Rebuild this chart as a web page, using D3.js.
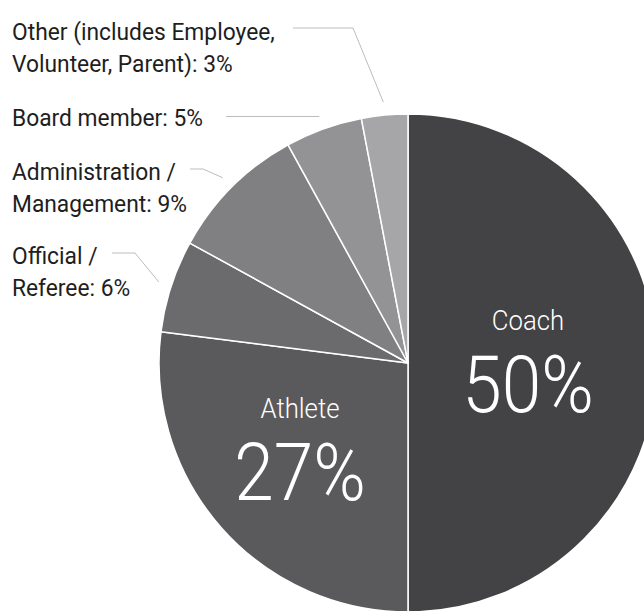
<!DOCTYPE html>
<html>
<head>
<meta charset="utf-8">
<script src="https://cdn.jsdelivr.net/npm/d3@7"></script>
<style>
    body { margin: 0; background: #fff; }
    svg { display: block; }
    text { font-family: Roboto, "Open Sans", sans-serif; }
</style>
</head>
<body>
<div id="chart"></div>
<script>
// values, clockwise from 12 o'clock
const categories = ['Coach', 'Athlete', 'Official / Referee', 'Administration / Management', 'Board member', 'Other'];
const shares = [50, 27, 6, 9, 5, 3];
const labelLines = [
    ['Coach'],
    ['Athlete'],
    ['Official /', 'Referee: 6%'],
    ['Administration /', 'Management: 9%'],
    ['Board member: 5%'],
    ['Other (includes Employee,', 'Volunteer, Parent): 3%']
];
const colors = ['#434244', '#5a5a5c', '#6b6b6e', '#808083', '#939396', '#a6a6a9'];

const width = 644, height = 611;
const cx = 408, cy = 363, radius = 249;

// where the outside labels sit (first baseline) and the elbow of their leader line
const outside = {
    'Official / Referee': {x: 12, y: 264, lineStart: 112, elbow: [135, 253]},
    'Administration / Management': {x: 12, y: 180, lineStart: 190, elbow: [203, 169]},
    'Board member': {x: 12, y: 126, lineStart: 226, elbow: null},
    'Other': {x: 12, y: 40, lineStart: 293, elbow: [353, 28]}
};

const data = categories.map((c, i) => ({name: c, value: shares[i], lines: labelLines[i]}));

const svg = d3.select('#chart').append('svg')
    .attr('width', width)
    .attr('height', height);

const g = svg.append('g')
    .attr('transform', 'translate(' + cx + ',' + cy + ')');

const pie = d3.pie()
    .sort(null)
    .value(d => d.value);

const arc = d3.arc()
    .innerRadius(0)
    .outerRadius(radius);

const leaderArc = d3.arc()
    .innerRadius(262)
    .outerRadius(262);

const arcs = pie(data);

g.selectAll('path.slice')
    .data(arcs)
    .enter()
    .append('path')
    .attr('class', 'slice')
    .attr('d', arc)
    .attr('fill', (d, i) => colors[i])
    .attr('stroke', '#fff')
    .attr('stroke-width', 1.5)
    .attr('stroke-linejoin', 'round');

// big labels inside Coach and Athlete
const inside = {
    'Coach': {x: 120, y: -33},
    'Athlete': {x: -108, y: 55}
};
arcs.filter(d => inside[d.data.name]).forEach(d => {
    let p = inside[d.data.name];
    g.append('text')
        .attr('x', p.x)
        .attr('y', p.y)
        .attr('text-anchor', 'middle')
        .attr('fill', '#fff')
        .attr('font-size', 28)
        .attr('font-weight', 300)
        .attr('transform-origin', p.x + ' ' + p.y)
        .attr('transform', 'scale(0.92,1)')
        .text(d.data.lines[0]);
    g.append('text')
        .attr('x', p.x)
        .attr('y', p.y + 82)
        .attr('text-anchor', 'middle')
        .attr('fill', '#fff')
        .attr('font-size', 79)
        .attr('font-weight', 300)
        .attr('transform-origin', p.x + ' ' + (p.y + 82))
        .attr('transform', 'scale(0.9,1)')
        .text(d.data.value + '%');
});

// outside labels with leader lines
arcs.filter(d => outside[d.data.name]).forEach(d => {
    let o = outside[d.data.name];
    let t = svg.append('text')
        .attr('x', o.x)
        .attr('y', o.y)
        .attr('fill', '#1e1e1e')
        .attr('font-size', 24)
        .attr('font-weight', 400)
        .attr('transform-origin', o.x + ' ' + o.y)
        .attr('transform', 'scale(0.95,1)');
    t.selectAll('tspan')
        .data(d.data.lines)
        .enter()
        .append('tspan')
        .attr('x', o.x)
        .attr('dy', (l, i) => i === 0 ? 0 : 32)
        .text(l => l);

    let end = leaderArc.centroid(d);
    let pts = [[o.lineStart, o.elbow ? o.elbow[1] : cy + end[1]]];
    if (o.elbow) pts.push(o.elbow);
    pts.push([cx + end[0], cy + end[1]]);

    svg.append('path')
        .attr('d', d3.line()(pts))
        .attr('fill', 'none')
        .attr('stroke', '#bdbdbd')
        .attr('stroke-width', 1);
});
</script>
</body>
</html>
